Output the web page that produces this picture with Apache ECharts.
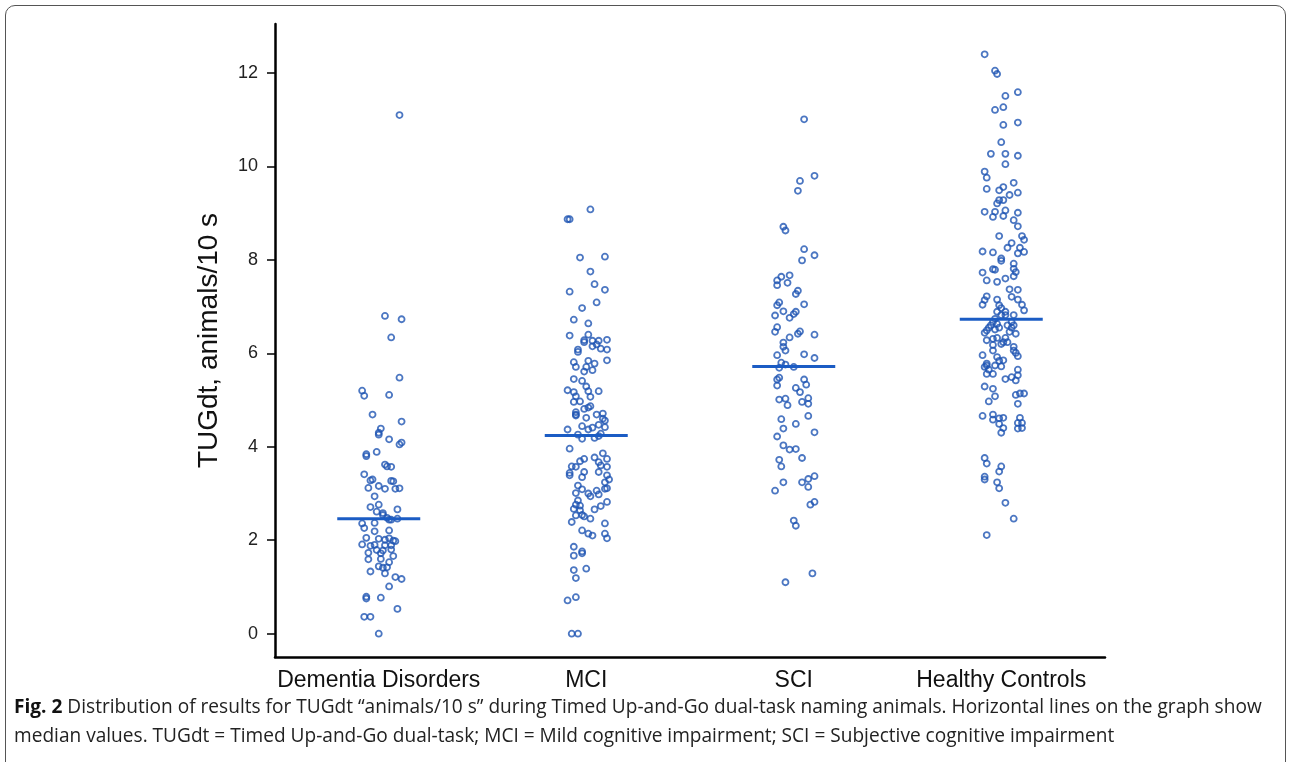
<!DOCTYPE html>
<html>
<head>
<meta charset="utf-8">
<script src="https://cdn.jsdelivr.net/npm/echarts@6/dist/echarts.min.js"></script>
<style>
  html, body { margin: 0; padding: 0; background: #fff; }
  #frame {
    position: absolute; left: 5px; top: 5px; width: 1281px; height: 780px;
    border: 1.3px solid #555; border-radius: 10px; box-sizing: border-box;
  }
  #main { position: absolute; left: 0; top: 0; width: 1292px; height: 762px; }
  #caption {
    position: absolute; left: 14px; top: 691px;
    font-family: "Open Sans", "Noto Sans", sans-serif; font-size: 19.5px;
    line-height: 29px; color: #222; white-space: nowrap;
    transform-origin: 0 0;
  }
  #caption b { font-weight: 700; color: #111; }
</style>
</head>
<body>
<div id="frame"></div>
<div id="main"></div>
<div id="caption">
  <div><b>Fig. 2</b> Distribution of results for TUGdt “animals/10 s” during Timed Up-and-Go dual-task naming animals. Horizontal lines on the graph show</div>
  <div>median values. TUGdt = Timed Up-and-Go dual-task; MCI = Mild cognitive impairment; SCI = Subjective cognitive impairment</div>
</div>
<script>
// groups shown on the x axis
const categories = ['Dementia Disorders', 'MCI', 'SCI', 'Healthy Controls'];
const yTicks = [0, 2, 4, 6, 8, 10, 12];
const medians = [2.46, 4.24, 5.72, 6.73];

// TUGdt values per group, and the horizontal jitter of each dot (in category widths)
const dementiaValues = [
  11.10, 6.80, 6.73, 6.34, 5.48, 5.20, 5.09, 5.11, 4.69, 4.54,
  4.39, 4.26, 4.30, 4.16, 4.05, 4.09, 3.84, 3.80, 3.89, 3.62,
  3.58, 3.57, 3.41, 3.28, 3.30, 3.27, 3.26, 3.12, 3.16, 3.10,
  3.10, 3.11, 2.94, 2.71, 2.76, 2.66, 2.61, 2.58, 2.54, 2.48,
  2.44, 2.44, 2.46, 2.36, 2.37, 2.26, 2.19, 2.21, 2.05, 2.03,
  2.01, 2.04, 1.99, 1.98, 1.91, 1.88, 1.90, 1.89, 1.89, 1.73,
  1.79, 1.72, 1.78, 1.80, 1.66, 1.59, 1.60, 1.53, 1.44, 1.41,
  1.42, 1.33, 1.29, 1.21, 1.17, 1.01, 0.75, 0.79, 0.77, 0.53,
  0.36, 0.36, 0.00
];
const dementiaJitter = [
  0.10, 0.03, 0.11, 0.06, 0.10, -0.08, -0.07, 0.05, -0.03, 0.11,
  0.01, 0.00, 0.00, 0.05, 0.10, 0.11, -0.06, -0.06, -0.01, 0.03,
  0.04, 0.06, -0.07, -0.04, -0.03, 0.06, 0.07, -0.05, 0.00, 0.03,
  0.08, 0.10, -0.02, -0.04, 0.00, 0.09, -0.01, 0.02, 0.02, 0.04,
  0.05, 0.06, 0.09, -0.08, -0.02, -0.07, -0.02, 0.05, -0.06, 0.00,
  0.03, 0.05, 0.07, 0.08, -0.08, -0.04, -0.02, 0.03, 0.06, -0.05,
  -0.01, 0.01, 0.02, 0.06, 0.07, -0.05, 0.01, 0.05, 0.00, 0.02,
  0.04, -0.04, 0.03, 0.08, 0.11, 0.05, -0.06, -0.06, 0.01, 0.09,
  -0.07, -0.04, 0.00
];

const mciValues = [
  9.08, 8.87, 8.87, 8.05, 8.07, 7.75, 7.48, 7.36, 7.32, 7.09,
  6.97, 6.72, 6.64, 6.38, 6.40, 6.24, 6.28, 6.27, 6.15, 6.27,
  6.19, 6.29, 6.10, 6.08, 6.08, 6.03, 5.85, 5.81, 5.71, 5.84,
  5.71, 5.78, 5.61, 5.64, 5.45, 5.41, 5.29, 5.21, 5.17, 5.08,
  5.19, 5.19, 5.07, 4.96, 4.97, 4.84, 4.87, 4.81, 4.74, 4.69,
  4.67, 4.69, 4.71, 4.60, 4.62, 4.37, 4.44, 4.37, 4.41, 4.47,
  4.42, 4.56, 4.26, 4.17, 4.19, 4.23, 4.28, 3.96, 3.86, 3.74,
  3.69, 3.77, 3.74, 3.58, 3.57, 3.67, 3.60, 3.57, 3.44, 3.39,
  3.46, 3.35, 3.46, 3.39, 3.30, 3.24, 3.17, 3.01, 3.09, 3.00,
  2.94, 3.06, 2.98, 3.11, 3.10, 2.85, 2.76, 2.67, 2.74, 2.64,
  2.66, 2.73, 2.82, 2.54, 2.51, 2.53, 2.46, 2.39, 2.36, 2.21,
  2.14, 2.10, 2.14, 2.04, 1.86, 1.67, 1.76, 1.72, 1.36, 1.19,
  1.39, 0.71, 0.78, 0.00, 0.00
];
const mciJitter = [
  0.02, -0.09, -0.08, -0.03, 0.09, 0.02, 0.04, 0.09, -0.08, 0.05,
  -0.02, -0.06, 0.01, -0.08, 0.01, -0.01, -0.01, 0.03, 0.03, 0.06,
  0.05, 0.10, 0.07, 0.10, -0.04, -0.04, 0.10, -0.06, -0.05, 0.01,
  0.00, 0.04, -0.01, 0.03, -0.06, -0.02, 0.00, -0.09, -0.06, -0.05,
  0.06, 0.01, 0.02, -0.06, -0.03, 0.01, 0.02, -0.01, -0.05, -0.05,
  -0.05, 0.05, 0.08, 0.08, 0.00, -0.09, -0.02, 0.01, 0.03, 0.06,
  0.09, 0.09, -0.04, -0.02, 0.04, 0.06, 0.07, -0.08, 0.08, -0.01,
  -0.03, 0.04, 0.10, -0.07, -0.05, 0.06, 0.07, 0.10, -0.08, -0.08,
  -0.01, -0.02, 0.06, 0.10, 0.11, 0.09, -0.04, -0.05, -0.02, 0.01,
  0.02, 0.05, 0.06, 0.10, 0.09, -0.04, -0.05, -0.06, -0.03, -0.03,
  0.04, 0.07, 0.10, -0.02, -0.01, -0.05, 0.02, -0.07, 0.09, -0.02,
  0.01, 0.03, 0.09, 0.10, -0.06, -0.06, -0.02, -0.02, -0.06, -0.05,
  0.00, -0.09, -0.05, -0.07, -0.04
];

const sciValues = [
  11.01, 9.80, 9.69, 9.48, 8.71, 8.63, 8.23, 8.10, 7.99, 7.67,
  7.64, 7.56, 7.46, 7.51, 7.34, 7.27, 7.05, 7.09, 7.03, 6.81,
  6.90, 6.76, 6.84, 6.89, 6.56, 6.46, 6.34, 6.23, 6.42, 6.47,
  6.40, 6.14, 6.06, 5.96, 5.98, 5.90, 5.80, 5.69, 5.76, 5.71,
  5.48, 5.44, 5.31, 5.44, 5.33, 5.26, 5.17, 5.01, 5.03, 4.89,
  4.96, 5.04, 4.92, 4.66, 4.59, 4.39, 4.49, 4.22, 4.31, 4.03,
  3.94, 3.95, 3.76, 3.72, 3.58, 3.24, 3.06, 3.24, 3.14, 3.31,
  3.37, 2.76, 2.82, 2.42, 2.31, 1.29, 1.10
];
const sciJitter = [
  0.05, 0.10, 0.03, 0.02, -0.05, -0.04, 0.05, 0.10, 0.04, -0.02,
  -0.06, -0.08, -0.08, -0.03, 0.02, 0.01, 0.05, -0.07, -0.08, -0.09,
  -0.05, -0.02, 0.00, 0.01, -0.08, -0.09, -0.02, -0.05, 0.02, 0.03,
  0.10, -0.05, -0.04, -0.08, 0.05, 0.10, -0.06, -0.07, -0.04, 0.00,
  -0.07, -0.08, -0.08, 0.05, 0.06, 0.01, 0.03, -0.07, -0.04, -0.03,
  0.04, 0.07, 0.07, 0.07, -0.06, -0.05, 0.01, -0.08, 0.10, -0.05,
  -0.02, 0.01, 0.04, -0.07, -0.06, -0.05, -0.09, 0.04, 0.07, 0.07,
  0.10, 0.08, 0.10, 0.00, 0.01, 0.09, -0.04
];

const hcValues = [
  12.40, 12.05, 11.98, 11.59, 11.51, 11.21, 11.27, 10.89, 10.94, 10.52,
  10.27, 10.27, 10.23, 10.05, 9.89, 9.76, 9.52, 9.49, 9.56, 9.65,
  9.44, 9.39, 9.28, 9.21, 9.28, 9.03, 9.03, 9.06, 9.01, 8.92,
  8.94, 8.85, 8.72, 8.51, 8.51, 8.43, 8.36, 8.26, 8.26, 8.17,
  8.14, 8.18, 8.16, 8.03, 7.98, 7.92, 7.81, 7.74, 7.80, 7.79,
  7.73, 7.56, 7.53, 7.60, 7.65, 7.37, 7.36, 7.22, 7.14, 7.04,
  7.15, 7.03, 7.21, 7.15, 7.04, 6.92, 6.97, 6.89, 6.82, 6.89,
  6.82, 6.74, 6.82, 6.67, 6.67, 6.60, 6.55, 6.49, 6.44, 6.63,
  6.55, 6.51, 6.60, 6.55, 6.46, 6.60, 6.42, 6.28, 6.31, 6.33,
  6.33, 6.24, 6.18, 6.20, 6.24, 6.14, 6.06, 5.94, 6.01, 6.06,
  5.96, 5.92, 5.84, 5.85, 5.78, 5.74, 5.71, 5.65, 5.56, 5.56,
  5.74, 5.72, 5.65, 5.53, 5.45, 5.49, 5.42, 5.29, 5.24, 5.08,
  4.97, 5.11, 5.14, 5.14, 4.92, 4.66, 4.69, 4.58, 4.61, 4.62,
  4.40, 4.49, 4.30, 4.62, 4.51, 4.51, 4.39, 4.40, 3.76, 3.64,
  3.58, 3.47, 3.36, 3.30, 3.24, 3.11, 2.80, 2.46, 2.11
];
const hcJitter = [
  -0.08, -0.03, -0.02, 0.08, 0.02, -0.03, 0.01, 0.01, 0.08, 0.00,
  -0.05, 0.02, 0.08, 0.02, -0.08, -0.07, -0.07, -0.01, 0.01, 0.06,
  0.08, 0.04, -0.01, -0.02, 0.01, -0.08, -0.03, 0.02, 0.08, -0.04,
  0.01, 0.06, 0.08, -0.01, 0.10, 0.11, 0.05, 0.03, 0.09, 0.11,
  0.08, -0.09, -0.04, 0.00, 0.00, 0.06, 0.06, 0.07, -0.04, -0.03,
  -0.09, -0.07, -0.02, 0.02, 0.06, 0.04, 0.08, -0.07, -0.08, -0.09,
  -0.02, -0.01, 0.05, 0.08, 0.10, 0.11, 0.00, 0.02, 0.02, -0.02,
  0.00, -0.03, 0.06, 0.05, -0.04, -0.05, -0.06, -0.07, -0.08, -0.02,
  -0.01, -0.03, 0.03, 0.05, 0.04, 0.06, 0.07, -0.07, -0.04, -0.02,
  0.02, 0.03, -0.04, 0.00, 0.01, 0.06, 0.06, 0.08, 0.07, -0.04,
  -0.09, -0.02, -0.01, 0.01, -0.07, -0.07, -0.08, -0.06, -0.04, -0.07,
  -0.03, 0.00, 0.08, 0.08, 0.02, 0.05, 0.07, -0.08, -0.04, -0.03,
  -0.06, 0.07, 0.09, 0.11, 0.08, -0.09, -0.04, -0.04, -0.01, 0.01,
  0.01, -0.01, 0.00, 0.09, 0.08, 0.10, 0.08, 0.10, -0.08, -0.07,
  0.00, -0.01, -0.08, -0.08, -0.02, -0.01, 0.02, 0.06, -0.07
];

const groups = [
  [dementiaValues, dementiaJitter],
  [mciValues, mciJitter],
  [sciValues, sciJitter],
  [hcValues, hcJitter]
];

const dotColor = '#1f55b3';
const medianColor = '#1b5cc4';
const axisFont = 'Liberation Sans, Arial, sans-serif';

let points = [];
groups.forEach(function (g, i) {
  g[0].forEach(function (v, j) {
    points.push([i + 1 + g[1][j], v]);
  });
});

const chart = echarts.init(document.getElementById('main'));
const option = {
  animation: false,
  grid: { left: 275, right: 187, top: 24, bottom: 105 },
  xAxis: {
    type: 'value',
    min: 0.5,
    max: 4.5,
    splitLine: { show: false },
    axisLine: { onZero: false, lineStyle: { color: '#000', width: 2.5 } },
    axisTick: { show: false },
    axisLabel: {
      customValues: [1, 2, 3, 4],
      formatter: function (v) { return categories[Math.round(v) - 1]; },
      color: '#111',
      fontSize: 23,
      fontFamily: axisFont,
      margin: 12
    }
  },
  yAxis: {
    type: 'value',
    min: -0.5,
    max: 13.05,
    name: 'TUGdt, animals/10 s',
    nameLocation: 'middle',
    nameGap: 52,
    nameTextStyle: { color: '#111', fontSize: 28, fontFamily: axisFont },
    splitLine: { show: false },
    axisLine: { onZero: false, lineStyle: { color: '#000', width: 2.5 } },
    axisTick: { customValues: yTicks, length: 8, lineStyle: { color: '#000', width: 1.5 } },
    axisLabel: {
      customValues: yTicks,
      color: '#222',
      fontSize: 18,
      fontFamily: axisFont,
      margin: 17
    }
  },
  series: [
    {
      type: 'scatter',
      data: points,
      symbol: 'circle',
      symbolSize: 6,
      itemStyle: { color: 'rgba(255,255,255,0)', borderColor: dotColor, borderWidth: 1.8 },
      z: 2
    },
    {
      type: 'custom',
      data: medians.map(function (m, i) { return [i + 1, m]; }),
      renderItem: function (params, api) {
        const c = api.value(0), m = api.value(1);
        const a = api.coord([c - 0.2, m]);
        const b = api.coord([c + 0.2, m]);
        return {
          type: 'line',
          shape: { x1: a[0], y1: a[1], x2: b[0], y2: b[1] },
          style: { stroke: medianColor, lineWidth: 3 }
        };
      },
      z: 3
    }
  ]
};
chart.setOption(option);

// squeeze the caption to the narrow width of the journal typeface
const cap = document.getElementById('caption');
const w = cap.firstElementChild.scrollWidth;
cap.style.transform = 'scaleX(' + (1248 / w) + ')';
</script>
</body>
</html>
